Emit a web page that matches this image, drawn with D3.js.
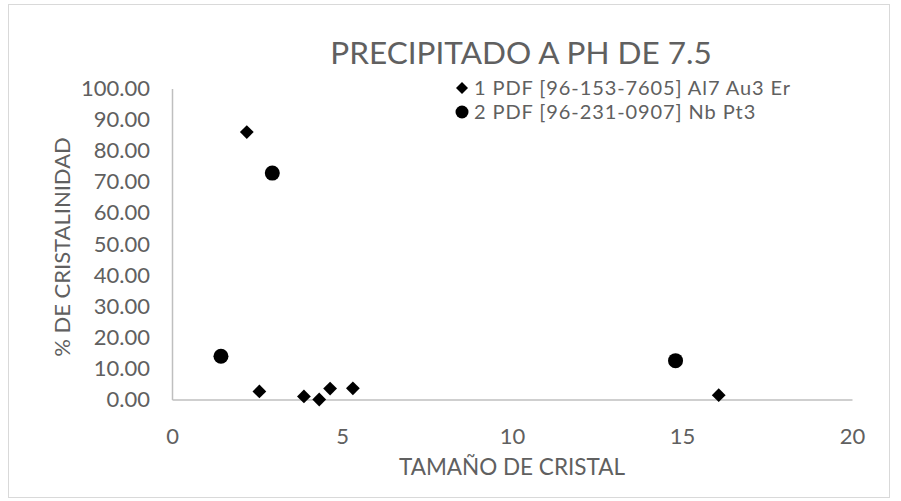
<!DOCTYPE html>
<html>
<head>
<meta charset="utf-8">
<script src="https://cdn.jsdelivr.net/npm/d3@7"></script>
<style>
  body { margin: 0; background: #fff; }
  text { font-family: Lato, "Open Sans", sans-serif; fill: #606060; }
</style>
</head>
<body>
<script>
// chart data
const seriesNames = ["1 PDF [96-153-7605] Al7 Au3 Er", "2 PDF [96-231-0907] Nb Pt3"];
// tamaño de cristal / % de cristalinidad
const s1x = [2.2, 2.57, 3.88, 4.33, 4.65, 5.32, 16.08];
const s1y = [86.0, 2.6, 1.0, 0.0, 3.5, 3.6, 1.4];
const s2x = [1.44, 2.95, 14.81];
const s2y = [13.9, 72.8, 12.5];
const xTicks = [0, 5, 10, 15, 20];
const yTicks = [0, 10, 20, 30, 40, 50, 60, 70, 80, 90, 100];

const width = 901;
const height = 501;

let svg = d3.select("body").append("svg")
  .attr("width", width)
  .attr("height", height);

// outer chart border
svg.append("rect")
  .attr("x", 8.5).attr("y", 4.5)
  .attr("width", 881).attr("height", 493)
  .attr("fill", "#fff")
  .attr("stroke", "#d9d9d9");

const x = d3.scaleLinear().domain([0, 20]).range([172, 852]);
const y = d3.scaleLinear().domain([0, 100]).range([399.5, 88.5]);

// axes (labels only, no tick marks)
let xAxis = svg.append("g")
  .attr("transform", "translate(0," + y(0) + ")")
  .call(d3.axisBottom(x).tickValues(xTicks).tickSize(0).tickPadding(29).tickFormat(d3.format("d")));
let yAxis = svg.append("g")
  .attr("transform", "translate(" + x(0) + ",0)")
  .call(d3.axisLeft(y).tickValues(yTicks).tickSize(0).tickPadding(22).tickFormat(d3.format(".2f")));

[xAxis, yAxis].forEach(function(a){
  a.select(".domain").attr("stroke", "#bfbfbf").attr("stroke-width", 1.5);
  a.selectAll("text").style("font-size", "22px").attr("fill", "#606060")
    .style("font-family", "Lato, 'Open Sans', sans-serif");
});

// title
svg.append("text")
  .attr("x", 521).attr("y", 64)
  .attr("text-anchor", "middle")
  .style("font-size", "31.5px")
  .text("PRECIPITADO A PH DE 7.5");

// axis titles
svg.append("text")
  .attr("x", 512).attr("y", 475)
  .attr("text-anchor", "middle")
  .style("font-size", "22.5px")
  .text("TAMAÑO DE CRISTAL");

svg.append("text")
  .attr("transform", "translate(70,247) rotate(-90)")
  .attr("text-anchor", "middle")
  .style("font-size", "22px")
  .text("% DE CRISTALINIDAD");

const diamond = d3.symbol().type(d3.symbolSquare);

// series 1: diamonds
svg.append("g").selectAll("path")
  .data(d3.zip(s1x, s1y))
  .enter().append("path")
    .attr("d", diamond.size(95))
    .attr("transform", (d) => "translate(" + x(d[0]) + "," + y(d[1]) + ") rotate(45)")
    .attr("fill", "#000");

// series 2: circles
svg.append("g").selectAll("circle")
  .data(d3.zip(s2x, s2y))
  .enter().append("circle")
    .attr("cx", (d) => x(d[0]))
    .attr("cy", (d) => y(d[1]))
    .attr("r", 7.5)
    .attr("fill", "#000");

// legend
let legend = svg.append("g");
legend.append("path")
  .attr("d", diamond.size(72))
  .attr("transform", "translate(462,88) rotate(45)")
  .attr("fill", "#000");
legend.append("circle")
  .attr("cx", 462).attr("cy", 112).attr("r", 6.5)
  .attr("fill", "#000");
legend.selectAll("text.leg")
  .data(seriesNames)
  .enter().append("text")
    .attr("class", "leg")
    .attr("x", 474)
    .attr("y", (d, i) => 95 + i * 24)
    .style("font-size", "20px")
    .style("letter-spacing", "0.9px")
    .text((d) => d);
</script>
</body>
</html>
